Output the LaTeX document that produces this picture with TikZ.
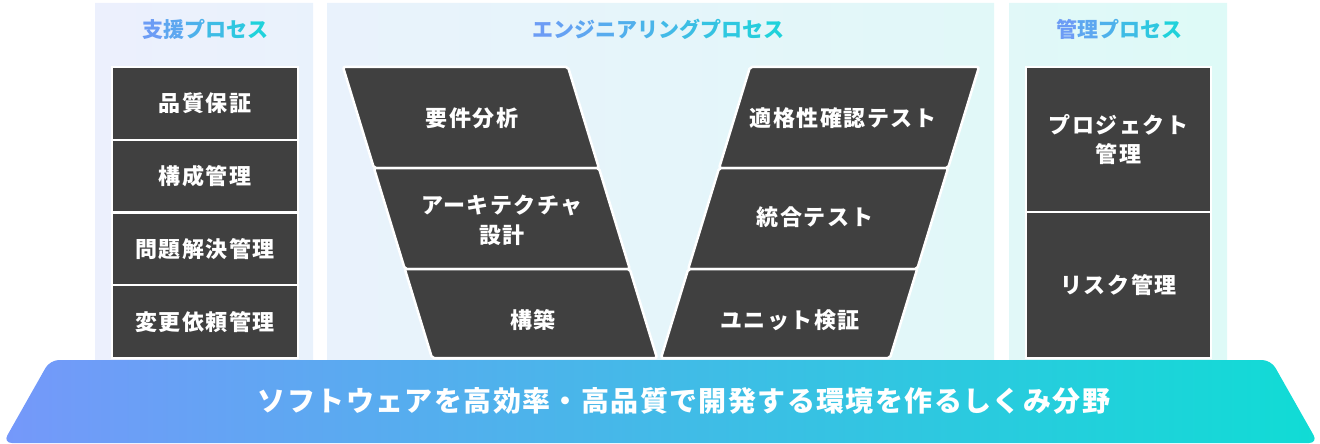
\documentclass[tikz,border=0pt]{standalone}
\usepackage{fontspec}
\setmainfont{Noto Sans CJK JP}
\newfontfamily\jpb{Noto Sans CJK JP}[LetterSpace=7]
\newfontfamily\jpt{Noto Sans CJK JP}[LetterSpace=8]
\newfontfamily\jpw{Noto Sans CJK JP}[LetterSpace=5]
\definecolor{boxc}{HTML}{404040}
\definecolor{pnlA}{HTML}{ECF0FD}
\definecolor{pnlB}{HTML}{DEFAF7}
\definecolor{tA}{HTML}{6C9CF5}
\definecolor{tB}{HTML}{20D2DB}
\definecolor{bA}{HTML}{7598FA}
\definecolor{bB}{HTML}{10DCD5}
\newcommand{\gc}[2]{\textcolor{tA!#1!tB}{#2}}
\tikzset{
  box/.style={fill=boxc, draw=white, line width=2pt, text=white,
    font=\jpb\bfseries\fontsize{22}{29}\selectfont, align=center, inner sep=0pt},
  ptitle/.style={font=\jpt\bfseries\fontsize{21}{24}\selectfont, inner sep=0pt},
  vseg/.style={fill=boxc, draw=white, line width=2.5pt, rounded corners=2pt},
  vlbl/.style={text=white, font=\jpb\bfseries\fontsize{22}{30}\selectfont, align=center, inner sep=0pt},
  banner/.style={left color=bA, right color=bB, rounded corners=9pt},
  btext/.style={text=white, font=\jpw\bfseries\fontsize{28}{32}\selectfont, inner sep=0pt},
}
\begin{document}
\begin{tikzpicture}[x=1pt,y=-1pt]
\useasboundingbox (0,0) rectangle (1320,444);
% panels
\begin{scope}
  \clip (95,3) rectangle (313,362) (327,3) rectangle (994,362) (1009,3) rectangle (1227,362);
  \shade[left color=pnlA, right color=pnlB] (95,3) rectangle (1227,362);
\end{scope}
% titles
\node[ptitle] (t1) at (205,29) {\gc{100}{支}\gc{80}{援}\gc{60}{プ}\gc{40}{ロ}\gc{20}{セ}\gc{0}{ス}};
\node[ptitle] (t2) at (658,29) {\gc{100}{エ}\gc{91}{ン}\gc{82}{ジ}\gc{73}{ニ}\gc{64}{ア}\gc{55}{リ}\gc{45}{ン}\gc{36}{グ}\gc{27}{プ}\gc{18}{ロ}\gc{9}{セ}\gc{0}{ス}};
\node[ptitle] (t3) at (1119,29) {\gc{100}{管}\gc{80}{理}\gc{60}{プ}\gc{40}{ロ}\gc{20}{セ}\gc{0}{ス}};
% support boxes
\node[box, minimum width=186pt, minimum height=72.75pt] (s1) at (205,103.4) {品質保証};
\node[box, minimum width=186pt, minimum height=72.75pt] (s2) at (205,176.1) {構成管理};
\node[box, minimum width=186pt, minimum height=72.75pt] (s3) at (205,248.9) {問題解決管理};
\node[box, minimum width=186pt, minimum height=72.75pt] (s4) at (205,321.6) {変更依頼管理};
% management boxes
\node[box, minimum width=185pt, minimum height=145pt] (m1) at (1118.5,139.5) {プロジェクト\\管理};
\node[box, minimum width=185pt, minimum height=146pt] (m2) at (1118.5,285) {リスク管理};
% V left arm
\draw[vseg] (343,67) -- (568,67) -- (598.9,168) -- (373.9,168) -- cycle;
\draw[vseg] (373.9,168) -- (598.9,168) -- (629.8,269) -- (404.8,269) -- cycle;
\draw[vseg] (404.8,269) -- (629.8,269) -- (657,358) -- (432,358) -- cycle;
% V right arm
\draw[vseg] (750,67) -- (979,67) -- (948.1,168) -- (719.1,168) -- cycle;
\draw[vseg] (719.1,168) -- (948.1,168) -- (917.2,269) -- (688.2,269) -- cycle;
\draw[vseg] (688.2,269) -- (917.2,269) -- (890,358) -- (661,358) -- cycle;
% V labels
\node[vlbl] (e1) at (472,118) {要件分析};
\node[vlbl] (e2) at (502,220) {アーキテクチャ\\設計};
\node[vlbl] (e3) at (533,320) {構築};
\node[vlbl] (e4) at (843,118) {適格性確認テスト};
\node[vlbl] (e5) at (815,217) {統合テスト};
\node[vlbl] (e6) at (790,320) {ユニット検証};
% banner
\shade[banner] (3,443) -- (50,360) -- (1271,360) -- (1318,443) -- cycle;
\node[btext] (b) at (684,401) {ソフトウェアを高効率・高品質で開発する環境を作るしくみ分野};
\end{tikzpicture}
\end{document}
